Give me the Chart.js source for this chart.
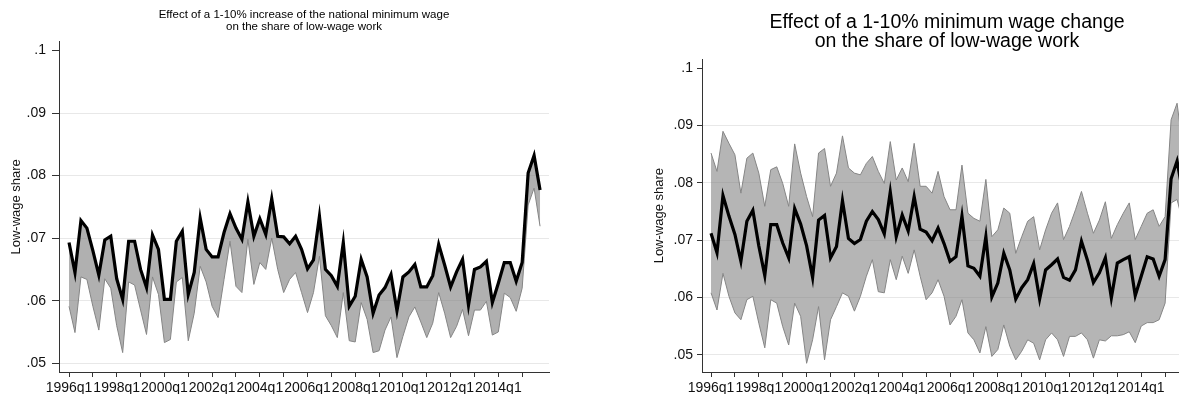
<!DOCTYPE html>
<html>
<head>
<meta charset="utf-8">
<script src="https://cdn.jsdelivr.net/npm/chart.js"></script>
<style>
  html, body { margin: 0; padding: 0; background: #fff; overflow: hidden; width: 1179px; height: 394px; }
  .panel { position: absolute; top: 0; width: 600px; height: 394px; }
  #panelLeft { left: 0; }
  #panelRight { left: 643px; }
  .titulo { position: absolute; left: 59px; width: 490px; text-align: center; color: #000;
            font-family: "Liberation Sans", Arial, Helvetica, sans-serif; white-space: nowrap; }
  #panelLeft .titulo { top: 8px; font-size: 11.5px; line-height: 12px; }
  #panelRight .titulo { top: 12px; font-size: 19.5px; line-height: 19px; }
</style>
</head>
<body>
<div class="panel" id="panelLeft">
  <canvas id="chartLeft" width="600" height="394"></canvas>
  <div class="titulo">Effect of a 1-10% increase of the national minimum wage<br>on the share of low-wage work</div>
</div>
<div class="panel" id="panelRight">
  <canvas id="chartRight" width="600" height="394"></canvas>
  <div class="titulo">Effect of a 1-10% minimum wage change<br>on the share of low-wage work</div>
</div>
<script>
// quarters 1996q1 ... 2015q4 (index 0..79)
const tickLabels = ["1996q1", "1998q1", "2000q1", "2002q1", "2004q1", "2006q1", "2008q1", "2010q1", "2012q1", "2014q1"];
const yTicks = [0.05, 0.06, 0.07, 0.08, 0.09, 0.1];
const yTickLabels = [".05", ".06", ".07", ".08", ".09", ".1"];

// panel izquierdo: efecto de un aumento del salario minimo nacional
const leftBlack = [
  .0693, .0645, .0728, .0716, .0680, .0641, .0697, .0703, .0635, .0602,
  .0695, .0695, .0650, .0621, .0705, .0682, .0602, .0602, .0695, .0711,
  .0610, .0645, .0732, .0682, .0670, .0670, .0709, .0739, .0716, .0698,
  .0758, .0703, .0731, .0706, .0763, .0703, .0702, .0691, .0703, .0682,
  .0651, .0665, .0735, .0650, .0640, .0623, .0693, .0591, .0607, .0666,
  .0638, .0580, .0609, .0621, .0642, .0584, .0638, .0646, .0658, .0622,
  .0622, .0640, .0690, .0657, .0622, .0646, .0666, .0593, .0650, .0654,
  .0663, .0597, .0628, .0661, .0661, .0631, .0661, .0804, .0832, .0777
];
const leftGrayLow = [
  .0591, .0549, .0638, .0634, .0591, .0553, .0635, .0620, .0560, .0517,
  .0630, .0625, .0585, .0546, .0638, .0610, .0533, .0538, .0630, .0637,
  .0536, .0580, .0655, .0630, .0591, .0573, .0634, .0695, .0623, .0613,
  .0698, .0626, .0661, .0650, .0700, .0650, .0613, .0634, .0645, .0613,
  .0581, .0613, .0671, .0576, .0560, .0541, .0613, .0536, .0534, .0597,
  .0570, .0517, .0520, .0553, .0574, .0509, .0543, .0574, .0590, .0566,
  .0541, .0564, .0613, .0580, .0541, .0559, .0586, .0544, .0585, .0585,
  .0599, .0545, .0550, .0612, .0605, .0583, .0620, .0753, .0780, .0719
];

// panel derecho: efecto de un cambio del salario minimo
const rightBlack = [
  .0712, .0678, .0778, .0742, .0710, .0663, .0733, .0752, .0690, .0638,
  .0727, .0727, .0695, .0669, .0755, .0728, .0690, .0635, .0735, .0743,
  .0669, .0689, .0769, .0703, .0694, .0701, .0733, .0750, .0736, .0711,
  .0784, .0706, .0744, .0716, .0776, .0719, .0714, .0699, .0721, .0694,
  .0663, .0671, .0742, .0655, .0651, .0637, .0706, .0601, .0625, .0677,
  .0648, .0597, .0617, .0631, .0659, .0597, .0648, .0657, .0667, .0635,
  .0630, .0648, .0698, .0665, .0626, .0643, .0669, .0599, .0660, .0666,
  .0671, .0603, .0637, .0671, .0667, .0637, .0666, .0807, .0838, .0780
];
const rightGrayHigh = [
  .0852, .0820, .0890, .0869, .0849, .0782, .0843, .0852, .0817, .0759,
  .0823, .0828, .0799, .0759, .0868, .0817, .0776, .0741, .0852, .0860,
  .0794, .0817, .0882, .0826, .0817, .0814, .0834, .0846, .0820, .0799,
  .0872, .0805, .0826, .0802, .0869, .0794, .0794, .0782, .0820, .0776,
  .0753, .0753, .0831, .0747, .0738, .0733, .0806, .0706, .0718, .0756,
  .0747, .0677, .0706, .0733, .0741, .0683, .0718, .0747, .0765, .0701,
  .0724, .0753, .0785, .0747, .0712, .0735, .0767, .0703, .0727, .0747,
  .0765, .0701, .0724, .0747, .0753, .0724, .0741, .0910, .0939, .0858
];
const rightGrayLow = [
  .0608, .0578, .0642, .0602, .0573, .0561, .0596, .0602, .0555, .0512,
  .0596, .0590, .0549, .0517, .0590, .0567, .0485, .0526, .0584, .0491,
  .0561, .0584, .0608, .0602, .0576, .0602, .0637, .0666, .0610, .0608,
  .0666, .0631, .0672, .0642, .0683, .0637, .0596, .0608, .0631, .0602,
  .0552, .0567, .0596, .0538, .0526, .0503, .0549, .0497, .0509, .0552,
  .0515, .0491, .0506, .0526, .0520, .0491, .0526, .0538, .0526, .0497,
  .0532, .0532, .0538, .0526, .0494, .0526, .0524, .0533, .0533, .0535,
  .0540, .0521, .0550, .0556, .0556, .0561, .0590, .0765, .0771, .0730
];

const fuente = "'Liberation Sans', Arial, Helvetica, sans-serif";
const toPts = (arr) => arr.map((v, i) => ({ x: i, y: v }));

const lineaNegra = (datos) => ({
  data: toPts(datos), borderColor: "#000", borderWidth: 3.2,
  pointRadius: 0, tension: 0, fill: false, order: 0
});
const lineaGris = (datos, relleno, tono) => ({
  data: toPts(datos), borderColor: "#858585", borderWidth: 1,
  backgroundColor: tono,
  pointRadius: 0, tension: 0, fill: relleno, order: 1
});

const crearGrafico = (id, datasets, cfg) => {
  return new Chart(document.getElementById(id), {
    type: "line",
    data: { datasets },
    options: {
      responsive: false,
      animation: false,
      devicePixelRatio: 1,
      layout: { padding: { left: 0, right: 51, top: cfg.top, bottom: 0 } },
      plugins: { legend: { display: false }, tooltip: { enabled: false }, title: { display: false } },
      scales: {
        x: {
          type: "linear", min: cfg.xMin, max: 80.5,
          afterBuildTicks: (axis) => {
            const t = [];
            for (let q = 0; q <= 76; q += 4) t.push({ value: q });
            axis.ticks = t;
          },
          afterFit: (scale) => { scale.height = 22; },
          ticks: {
            autoSkip: false, maxRotation: 0, minRotation: 0, padding: 3,
            color: "#111", font: { family: fuente, size: 14 },
            callback: (v) => (v % 8 === 0 ? tickLabels[v / 8] : "")
          },
          grid: { drawOnChartArea: false, tickLength: 5, tickColor: "#333", lineWidth: 1 },
          border: { color: "#333", width: 1 }
        },
        y: {
          min: cfg.yMin, max: cfg.yMax,
          afterBuildTicks: (axis) => { axis.ticks = yTicks.map((v) => ({ value: v })); },
          afterFit: (scale) => { scale.width = 59; },
          ticks: {
            padding: cfg.tickPad, color: "#111", font: { family: fuente, size: 14 },
            callback: (v, i) => yTickLabels[i]
          },
          grid: {
            color: (ctx) => (ctx.tick && ctx.tick.value > 0.095 ? "rgba(0,0,0,0)" : "#e8e8e8"),
            tickColor: "#333", tickLength: cfg.tickLen, lineWidth: 1
          },
          border: { color: "#333", width: 1 },
          title: {
            display: true, text: "Low-wage share", color: "#111",
            font: { family: fuente, size: 13 }, padding: { top: 9, bottom: 0 }
          }
        }
      }
    }
  });
};

crearGrafico("chartLeft", [
  lineaNegra(leftBlack),
  lineaGris(leftGrayLow, 0, "rgba(128,128,128,0.62)")
], { top: 41.7, xMin: -1.68, yMin: 0.0486, yMax: 0.1014, tickPad: 6, tickLen: 7 });

crearGrafico("chartRight", [
  lineaNegra(rightBlack),
  lineaGris(rightGrayHigh, false, "rgba(0,0,0,0)"),
  lineaGris(rightGrayLow, 1, "rgba(128,128,128,0.58)")
], { top: 59.3, xMin: -1.51, yMin: 0.04698, yMax: 0.10157, tickPad: 4, tickLen: 5 });
</script>
</body>
</html>
